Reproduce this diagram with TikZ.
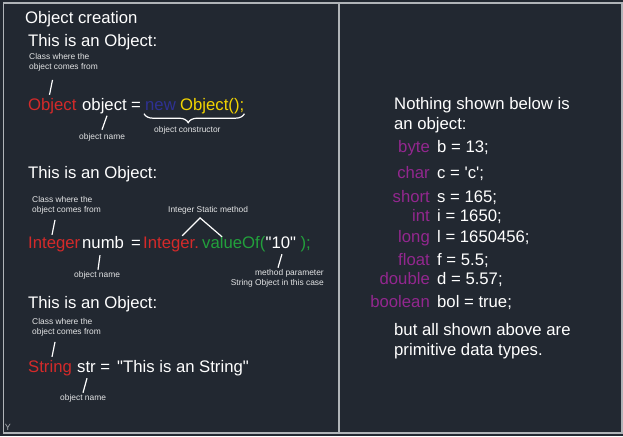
\documentclass[tikz,border=0pt]{standalone}
\usepackage{fontspec}
\setmainfont{Liberation Sans}
\usepackage{xcolor}
\usepackage{tikz}
\usetikzlibrary{decorations.pathreplacing}
\definecolor{board}{HTML}{222831}
\definecolor{rule}{HTML}{B0B4B8}
\definecolor{typered}{HTML}{D42A2A}
\definecolor{kwblue}{HTML}{2E3192}
\definecolor{ctoryellow}{HTML}{F2D400}
\definecolor{callgreen}{HTML}{22A03C}
\definecolor{primpurple}{HTML}{93278F}

\begin{document}
\begin{tikzpicture}[x=1pt,y=-1pt,
  big/.style={anchor=base west,inner sep=0pt,text=white,align=left,font=\fontsize{16.7}{19.5}\selectfont},
  code/.style={big,text height=12pt,text depth=3.5pt},
  note/.style={anchor=base west,inner sep=0pt,text=white!88!board,align=left,font=\fontsize{8.4}{10}\selectfont},
  tick/.style={draw=white,line width=1.2pt},
  curly/.style={draw=white,line width=1.2pt,decorate,decoration={brace,mirror,amplitude=9pt,aspect=0.44}},
  frame/.style={draw=rule,line width=1.5pt}]
  \useasboundingbox (0,0) rectangle (623,436);
  \fill[board] (0,0) rectangle (623,436);
  \draw[frame] (3.5,3) rectangle (622,433);
  \draw[frame] (339,3) -- (339,433);
  \node[text=rule,inner sep=0pt,font=\fontsize{9}{9}\selectfont] (ucs) at (8,427) {Y};

  % first object
  \node[big] (title) at (25,24) {Object creation};
  \node[big] (headA) at (28,46) {This is an Object:};
  \node[note] (noteA) at (29,70) {Class where the\\object comes from};
  \node[code,text=typered] (clsA) at (28,110) {Object};
  \node[code] (varA) at (82,110) {object};
  \node[code] (eqA) at (131,110) {=};
  \node[code,text=kwblue] (newA) at (145,110) {new};
  \node[code,text=ctoryellow] (ctorA) at (180,110) {Object();};
  \node[note] (nameA) at (79,139) {object name};
  \node[note] (ctorNote) at (154,132) {object constructor};
  \draw[tick] ([shift={(23.5,8)}]noteA.south west) -- ([shift={(21.5,-3)}]clsA.north west);
  \draw[tick] ([shift={(25,2)}]varA.south west) -- ([shift={(23,-3)}]nameA.north west);
  \draw[curly] ([xshift=-1pt]newA.south west) -- (ctorA.south east);

  % second object
  \node[big] (headB) at (28,178) {This is an Object:};
  \node[note] (noteB) at (32,212) {Class where the\\object comes from};
  \node[note] (staticNote) at (168,212) {Integer Static method};
  \node[code,text=typered] (clsB) at (28,248) {Integer};
  \node[code] (varB) at (82,248) {numb};
  \node[code] (eqB) at (131,248) {=};
  \node[code,text=typered] (ownerB) at (143,248) {Integer.};
  \node[code,text=callgreen] (callB) at (202,248) {valueOf(};
  \node[code] (argB) at (callB.base east) {\textquotedbl 10\textquotedbl};
  \node[code,text=callgreen] (endB) at ([xshift=4pt]argB.base east) {);};
  \node[note] (nameB) at (74,277) {object name};
  \node[note,align=right,anchor=base east] (paramNote) at (324,285) {method parameter\\String Object in this case};
  \draw[tick] ([shift={(23,6)}]noteB.south west) -- ([shift={(24,-1)}]clsB.north west);
  \draw[tick] ([xshift=-17pt]ownerB.north east) -- ([shift={(-8,4)}]staticNote.south) -- ([shift={(20,1)}]callB.north west);
  \draw[tick] ([shift={(18,3.5)}]varB.south west) -- ([shift={(24,-1)}]nameB.north west);
  \draw[tick] ([shift={(1,2.5)}]argB.south) -- ([shift={(-46,-1)}]paramNote.north east);

  % third object
  \node[big] (headC) at (28,308) {This is an Object:};
  \node[note] (noteC) at (32,334) {Class where the\\object comes from};
  \node[code,text=typered] (clsC) at (28,372) {String};
  \node[code] (varC) at (77,372) {str =};
  \node[code] (valC) at (117,372) {\textquotedbl This is an String\textquotedbl};
  \node[note] (nameC) at (60,400) {object name};
  \draw[tick] ([shift={(23,6)}]noteC.south west) -- ([shift={(24,-3)}]clsC.north west);
  \draw[tick] ([shift={(10,2.5)}]varC.south west) -- ([shift={(23,-1)}]nameC.north west);

  % primitives
  \node[big] (noteR) at (394,129) {Nothing shown below is\\an object:};
  \foreach \ty/\kw/\val [count=\k] in {152/byte/{b = 13;},178/char/{c = \textquotesingle c\textquotesingle;},202/short/{s = 165;},221/int/{i = 1650;},242/long/{l = 1650456;},265/float/{f = 5.5;},284/double/{d = 5.57;},307/boolean/{bol = true;}}{
    \node[big,anchor=base east,text=primpurple] (kw\k) at (430,\ty) {\kw};
    \node[big] (val\k) at ([xshift=7pt]kw\k.base east) {\val};
  }
  \node[big] (endR) at (394,355) {but all shown above are\\primitive data types.};
\end{tikzpicture}
\end{document}
